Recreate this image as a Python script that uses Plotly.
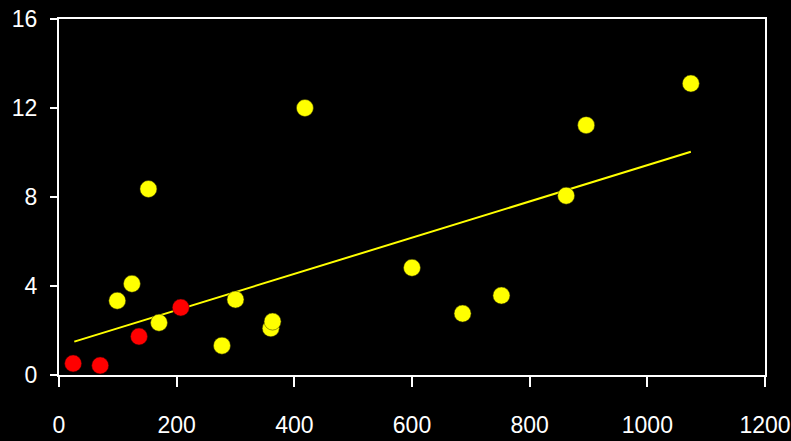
import plotly.graph_objects as go

# Red series
red_x = [24, 70, 136, 207]
red_y = [0.52, 0.43, 1.73, 3.03]

# Yellow series
yel_x = [99, 124, 152, 170, 277, 300, 360, 363, 418, 600, 686, 752, 862, 896, 1074]
yel_y = [3.34, 4.1, 8.36, 2.35, 1.32, 3.39, 2.1, 2.4, 12.0, 4.82, 2.76, 3.57, 8.06, 11.23, 13.1]

# Trend line end points
trend_x = [26, 1074]
trend_y = [1.5, 10.03]

x_ticks = [0, 200, 400, 600, 800, 1000, 1200]
y_ticks = [0, 4, 8, 12, 16]

FONT = "Liberation Sans Narrow, Arial Narrow, Liberation Sans, Arial, sans-serif"

fig = go.Figure()
fig.add_trace(go.Scatter(x=trend_x, y=trend_y, mode="lines",
                         line=dict(color="#FFFF00", width=2), hoverinfo="skip"))
fig.add_trace(go.Scatter(x=yel_x, y=yel_y, mode="markers",
                         marker=dict(color="#FFFF00", size=17, line=dict(color="#333300", width=0.5))))
fig.add_trace(go.Scatter(x=red_x, y=red_y, mode="markers",
                         marker=dict(color="#FF0000", size=17, line=dict(color="#330000", width=0.5))))

tickfont = dict(family=FONT, size=23, color="white")
axis_common = dict(showgrid=False, zeroline=False, showline=True, linecolor="white",
                   linewidth=2, mirror=True, ticks="outside", tickcolor="white",
                   tickwidth=2, tickfont=tickfont, automargin=False,
                   ticklabeloverflow="allow")

fig.update_layout(
    width=791, height=441,
    paper_bgcolor="black", plot_bgcolor="black",
    showlegend=False,
    margin=dict(l=59, r=26, t=19, b=66),
    font=dict(family=FONT, color="white"),
    xaxis=dict(range=[0, 1200], tickvals=x_ticks, ticklen=10, ticklabelstandoff=18, **axis_common),
    yaxis=dict(range=[0, 16], tickvals=y_ticks, ticklen=7, ticklabelstandoff=8, **axis_common),
)

fig.write_html("out.html", config={"displayModeBar": False},
               post_script="document.body.style.margin='0';document.body.style.background='black';")
